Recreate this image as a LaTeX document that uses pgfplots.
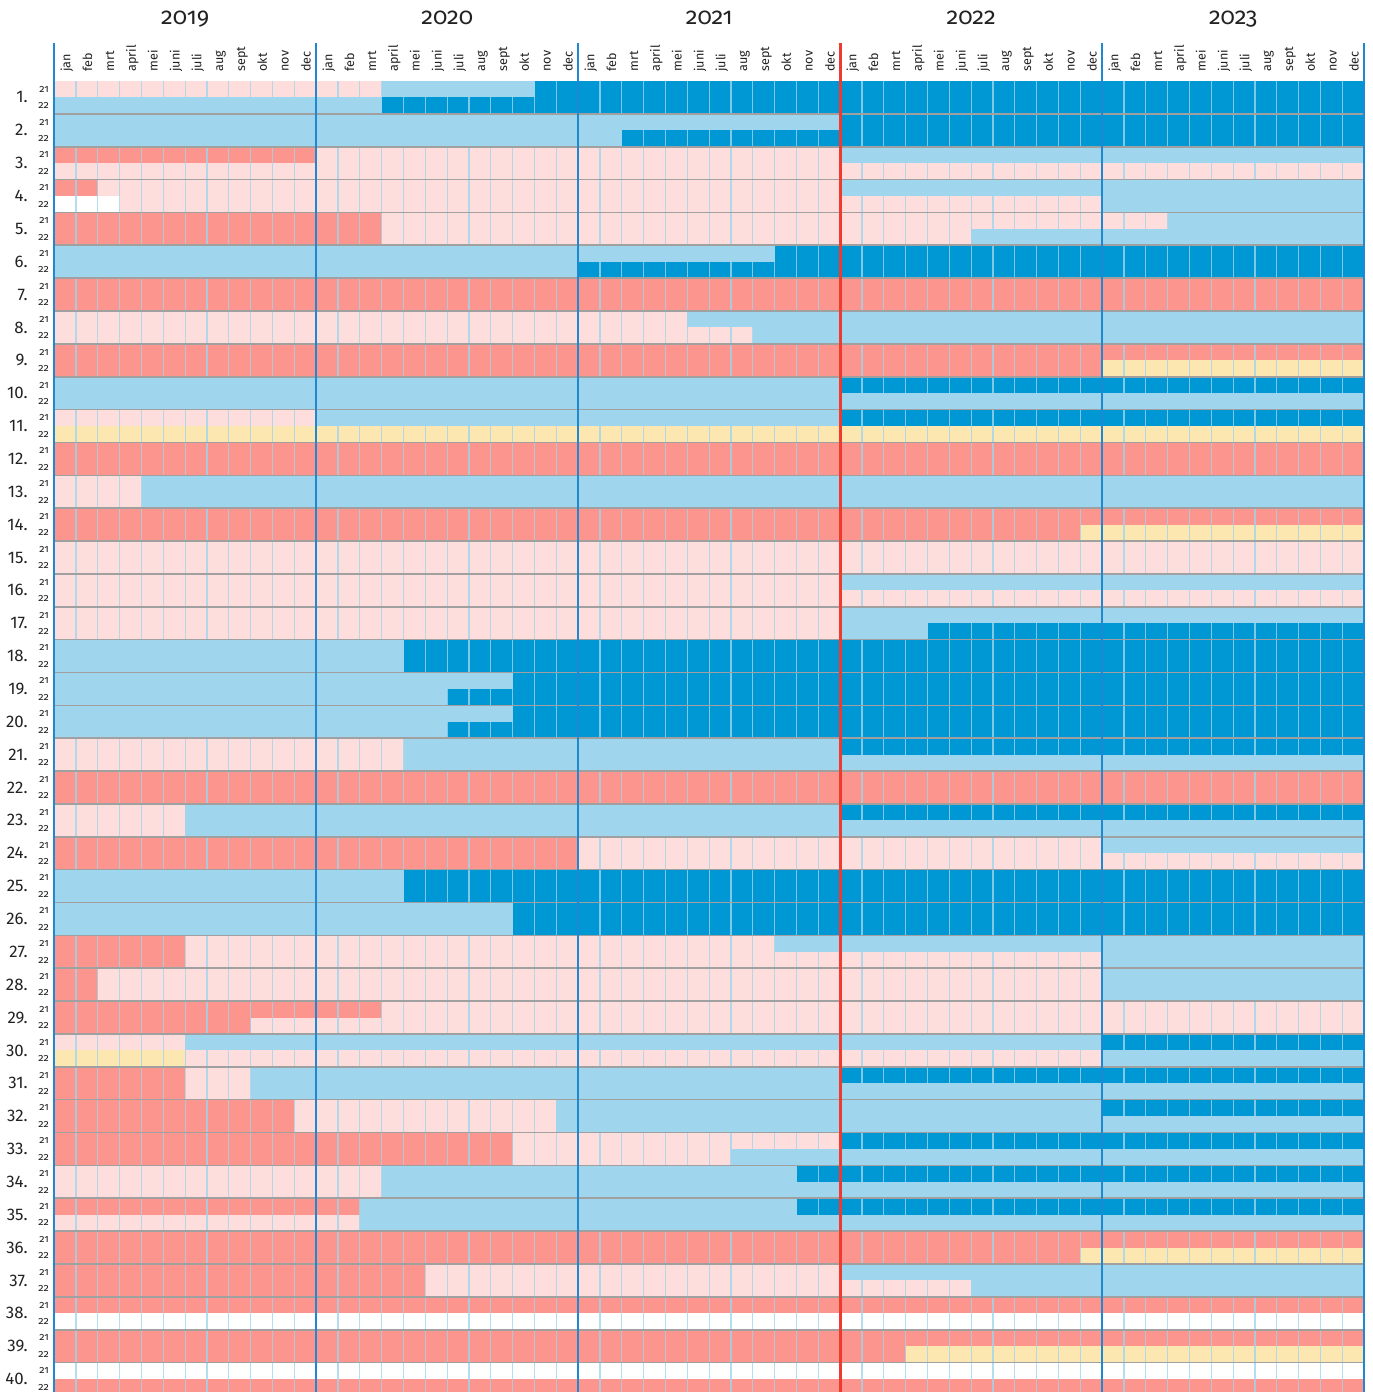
\documentclass[border=0pt]{standalone}
\usepackage{pgfplots}
\pgfplotsset{compat=1.18}
\usepackage{fontspec}
\setmainfont{Fira Sans}
\newfontfamily\onum{Fira Sans}[Numbers=OldStyle]
\definecolor{pk}{HTML}{FDDEDD}
\definecolor{sm}{HTML}{FB958E}
\definecolor{lb}{HTML}{A0D5EE}
\definecolor{db}{HTML}{0098D4}
\definecolor{yl}{HTML}{FDE7B1}
\definecolor{wh}{HTML}{FFFFFF}
\definecolor{rowgray}{HTML}{A0A0A0}
\definecolor{yearblue}{HTML}{1E88D3}
\definecolor{redline}{HTML}{F03A2E}
\definecolor{txt}{HTML}{222222}

% one segment: row, sub (1=21, 2=22), from month, to month, colour
\newcommand\seg[5]{%
  \pgfmathtruncatemacro\ya{-(2*#1+#2-3)}%
  \pgfmathtruncatemacro\yb{\ya-1}%
  \edef\temp{\noexpand\addplot[draw=none,fill=#5,forget plot] coordinates {(#3,\ya) (#4,\ya) (#4,\yb) (#3,\yb)};}%
  \temp}
\newcommand\both[4]{\seg{#1}{1}{#2}{#3}{#4}\seg{#1}{2}{#2}{#3}{#4}}

\begin{document}
\begin{tikzpicture}
\begin{axis}[
  x=10.9165pt, y=8.215pt,
  xmin=0, xmax=60, ymin=-79.79, ymax=0,
  axis line style={draw=none},
  clip mode=individual,
  axis on top,
  xtick={0.5,1.5,...,59.5},
  xticklabels={jan,feb,mrt,april,mei,juni,juli,aug,sept,okt,nov,dec,
               jan,feb,mrt,april,mei,juni,juli,aug,sept,okt,nov,dec,
               jan,feb,mrt,april,mei,juni,juli,aug,sept,okt,nov,dec,
               jan,feb,mrt,april,mei,juni,juli,aug,sept,okt,nov,dec,
               jan,feb,mrt,april,mei,juni,juli,aug,sept,okt,nov,dec},
  xticklabel pos=upper,
  xticklabel style={rotate=90, anchor=mid west, inner sep=0pt, text=txt, font=\fontsize{6.3}{7}\selectfont},
  xticklabel shift=4.5pt,
  major tick length=0pt, minor tick length=0pt,
  minor xtick={1,...,59},
  xminorgrids=true,
  ytick={-79.5,-78.5,...,-0.5},
  yticklabel={\ifodd\ticknum\relax 21\else 22\fi},
  yticklabel style={anchor=east, inner sep=0pt, text=txt, font=\onum\fontsize{5.3}{6}\selectfont},
  yticklabel shift=2.5pt,
  minor ytick={-78,-76,...,-2},
  yminorgrids=true,
  every axis x grid/.append style={lb, opacity=0.8, line width=0.6pt},
  every axis y grid/.append style={rowgray, line width=0.8pt},
]
% row 1
\seg{1}{1}{0}{15}{pk}\seg{1}{1}{15}{22}{lb}\seg{1}{1}{22}{60}{db}
\seg{1}{2}{0}{15}{lb}\seg{1}{2}{15}{60}{db}
% row 2
\seg{2}{1}{0}{36}{lb}\seg{2}{1}{36}{60}{db}
\seg{2}{2}{0}{26}{lb}\seg{2}{2}{26}{60}{db}
% row 3
\seg{3}{1}{0}{12}{sm}\seg{3}{1}{12}{36}{pk}\seg{3}{1}{36}{60}{lb}
\seg{3}{2}{0}{60}{pk}
% row 4
\seg{4}{1}{0}{2}{sm}\seg{4}{1}{2}{36}{pk}\seg{4}{1}{36}{60}{lb}
\seg{4}{2}{0}{3}{wh}\seg{4}{2}{3}{48}{pk}\seg{4}{2}{48}{60}{lb}
% row 5
\seg{5}{1}{0}{15}{sm}\seg{5}{1}{15}{51}{pk}\seg{5}{1}{51}{60}{lb}
\seg{5}{2}{0}{15}{sm}\seg{5}{2}{15}{42}{pk}\seg{5}{2}{42}{60}{lb}
% row 6
\seg{6}{1}{0}{33}{lb}\seg{6}{1}{33}{60}{db}
\seg{6}{2}{0}{24}{lb}\seg{6}{2}{24}{60}{db}
% row 7
\both{7}{0}{60}{sm}
% row 8
\seg{8}{1}{0}{29}{pk}\seg{8}{1}{29}{60}{lb}
\seg{8}{2}{0}{32}{pk}\seg{8}{2}{32}{60}{lb}
% row 9
\seg{9}{1}{0}{60}{sm}
\seg{9}{2}{0}{48}{sm}\seg{9}{2}{48}{60}{yl}
% row 10
\seg{10}{1}{0}{36}{lb}\seg{10}{1}{36}{60}{db}
\seg{10}{2}{0}{60}{lb}
% row 11
\seg{11}{1}{0}{12}{pk}\seg{11}{1}{12}{36}{lb}\seg{11}{1}{36}{60}{db}
\seg{11}{2}{0}{60}{yl}
% row 12
\both{12}{0}{60}{sm}
% row 13
\both{13}{0}{4}{pk}\both{13}{4}{60}{lb}
% row 14
\seg{14}{1}{0}{60}{sm}
\seg{14}{2}{0}{47}{sm}\seg{14}{2}{47}{60}{yl}
% row 15
\both{15}{0}{60}{pk}
% row 16
\seg{16}{1}{0}{36}{pk}\seg{16}{1}{36}{60}{lb}
\seg{16}{2}{0}{60}{pk}
% row 17
\seg{17}{1}{0}{36}{pk}\seg{17}{1}{36}{60}{lb}
\seg{17}{2}{0}{36}{pk}\seg{17}{2}{36}{40}{lb}\seg{17}{2}{40}{60}{db}
% row 18
\both{18}{0}{16}{lb}\both{18}{16}{60}{db}
% row 19
\seg{19}{1}{0}{21}{lb}\seg{19}{1}{21}{60}{db}
\seg{19}{2}{0}{18}{lb}\seg{19}{2}{18}{60}{db}
% row 20
\seg{20}{1}{0}{21}{lb}\seg{20}{1}{21}{60}{db}
\seg{20}{2}{0}{18}{lb}\seg{20}{2}{18}{60}{db}
% row 21
\seg{21}{1}{0}{16}{pk}\seg{21}{1}{16}{36}{lb}\seg{21}{1}{36}{60}{db}
\seg{21}{2}{0}{16}{pk}\seg{21}{2}{16}{60}{lb}
% row 22
\both{22}{0}{60}{sm}
% row 23
\seg{23}{1}{0}{6}{pk}\seg{23}{1}{6}{36}{lb}\seg{23}{1}{36}{60}{db}
\seg{23}{2}{0}{6}{pk}\seg{23}{2}{6}{60}{lb}
% row 24
\seg{24}{1}{0}{24}{sm}\seg{24}{1}{24}{48}{pk}\seg{24}{1}{48}{60}{lb}
\seg{24}{2}{0}{24}{sm}\seg{24}{2}{24}{60}{pk}
% row 25
\both{25}{0}{16}{lb}\both{25}{16}{60}{db}
% row 26
\both{26}{0}{21}{lb}\both{26}{21}{60}{db}
% row 27
\seg{27}{1}{0}{6}{sm}\seg{27}{1}{6}{33}{pk}\seg{27}{1}{33}{60}{lb}
\seg{27}{2}{0}{6}{sm}\seg{27}{2}{6}{48}{pk}\seg{27}{2}{48}{60}{lb}
% row 28
\both{28}{0}{2}{sm}\both{28}{2}{48}{pk}\both{28}{48}{60}{lb}
% row 29
\seg{29}{1}{0}{15}{sm}\seg{29}{1}{15}{60}{pk}
\seg{29}{2}{0}{9}{sm}\seg{29}{2}{9}{60}{pk}
% row 30
\seg{30}{1}{0}{6}{pk}\seg{30}{1}{6}{48}{lb}\seg{30}{1}{48}{60}{db}
\seg{30}{2}{0}{6}{yl}\seg{30}{2}{6}{48}{pk}\seg{30}{2}{48}{60}{lb}
% row 31
\seg{31}{1}{0}{6}{sm}\seg{31}{1}{6}{9}{pk}\seg{31}{1}{9}{36}{lb}\seg{31}{1}{36}{60}{db}
\seg{31}{2}{0}{6}{sm}\seg{31}{2}{6}{9}{pk}\seg{31}{2}{9}{60}{lb}
% row 32
\seg{32}{1}{0}{11}{sm}\seg{32}{1}{11}{23}{pk}\seg{32}{1}{23}{48}{lb}\seg{32}{1}{48}{60}{db}
\seg{32}{2}{0}{11}{sm}\seg{32}{2}{11}{23}{pk}\seg{32}{2}{23}{60}{lb}
% row 33
\seg{33}{1}{0}{21}{sm}\seg{33}{1}{21}{36}{pk}\seg{33}{1}{36}{60}{db}
\seg{33}{2}{0}{21}{sm}\seg{33}{2}{21}{31}{pk}\seg{33}{2}{31}{60}{lb}
% row 34
\seg{34}{1}{0}{15}{pk}\seg{34}{1}{15}{34}{lb}\seg{34}{1}{34}{60}{db}
\seg{34}{2}{0}{15}{pk}\seg{34}{2}{15}{60}{lb}
% row 35
\seg{35}{1}{0}{14}{sm}\seg{35}{1}{14}{34}{lb}\seg{35}{1}{34}{60}{db}
\seg{35}{2}{0}{14}{pk}\seg{35}{2}{14}{60}{lb}
% row 36
\seg{36}{1}{0}{60}{sm}
\seg{36}{2}{0}{47}{sm}\seg{36}{2}{47}{60}{yl}
% row 37
\seg{37}{1}{0}{17}{sm}\seg{37}{1}{17}{36}{pk}\seg{37}{1}{36}{60}{lb}
\seg{37}{2}{0}{17}{sm}\seg{37}{2}{17}{42}{pk}\seg{37}{2}{42}{60}{lb}
% row 38
\seg{38}{1}{0}{60}{sm}\seg{38}{2}{0}{60}{wh}
% row 39
\seg{39}{1}{0}{60}{sm}
\seg{39}{2}{0}{39}{sm}\seg{39}{2}{39}{60}{yl}
% row 40
\seg{40}{1}{0}{60}{wh}\seg{40}{2}{0}{60}{sm}

% row numbers
\pgfplotsinvokeforeach{1,...,40}{
  \node[anchor=east, inner sep=0pt, text=txt, font=\fontsize{8.4}{9}\selectfont] at (axis cs:-1.2,{-(2*#1-1)}) {#1.};
}
% year labels
\node[anchor=mid, text=txt, font=\onum\fontsize{11.8}{14}\selectfont] at (axis cs:6,3.74) {2019};
\node[anchor=mid, text=txt, font=\onum\fontsize{11.8}{14}\selectfont] at (axis cs:18,3.74) {2020};
\node[anchor=mid, text=txt, font=\onum\fontsize{11.8}{14}\selectfont] at (axis cs:30,3.74) {2021};
\node[anchor=mid, text=txt, font=\onum\fontsize{11.8}{14}\selectfont] at (axis cs:42,3.74) {2022};
\node[anchor=mid, text=txt, font=\onum\fontsize{11.8}{14}\selectfont] at (axis cs:54,3.74) {2023};
% coordinates for year separators and bounding box
\pgfplotsinvokeforeach{0,12,24,36,48,60}{
  \coordinate (t#1) at (axis cs:#1,2.31);
  \coordinate (b#1) at (axis cs:#1,-79.79);
}
\coordinate (bbA) at (axis cs:-2.482,4.93);
\coordinate (bbB) at (axis cs:60.36,-79.79);
\end{axis}
\foreach \k in {0,12,24,48,60} {\draw[yearblue, line width=0.75pt] (t\k) -- (b\k);}
\draw[redline, line width=1.7pt] (t36) -- (b36);
\pgfresetboundingbox
\path[use as bounding box] (bbA) rectangle (bbB);
\end{tikzpicture}
\end{document}
